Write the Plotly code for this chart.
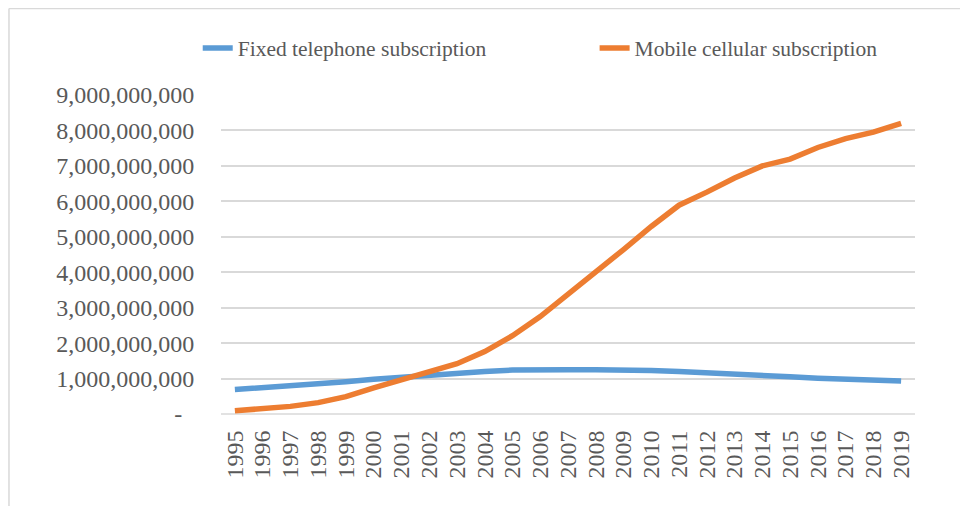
import plotly.graph_objects as go

years = [str(y) for y in range(1995, 2020)]
fixed = [0.69, 0.74, 0.79, 0.84, 0.91, 0.98, 1.04, 1.08, 1.14, 1.20, 1.24, 1.26, 1.25,
         1.25, 1.25, 1.23, 1.20, 1.17, 1.13, 1.09, 1.05, 1.01, 0.98, 0.96, 0.93]
mobile = [0.09, 0.145, 0.215, 0.32, 0.49, 0.74, 0.96, 1.16, 1.42, 1.76, 2.21, 2.75, 3.37,
          4.03, 4.64, 5.29, 5.89, 6.26, 6.66, 7.00, 7.19, 7.52, 7.77, 7.95, 8.20]
fixed = [v * 1e9 for v in fixed]
mobile = [v * 1e9 for v in mobile]

ytick_vals = [i * 1e9 for i in range(10)]
ytick_text = ["-\u00a0\u00a0"] + [f"{int(v):,}" for v in ytick_vals[1:]]

FONT = "Liberation Serif, Times New Roman, serif"
GRAY = "#595959"

fig = go.Figure()
fig.add_trace(go.Scatter(x=years, y=fixed, mode="lines", name="Fixed telephone subscription",
                         line=dict(color="#5B9BD5", width=5.5), legend="legend"))
fig.add_trace(go.Scatter(x=years, y=mobile, mode="lines", name="Mobile cellular subscription",
                         line=dict(color="#ED7D31", width=5.5), legend="legend2"))

legend_common = dict(orientation="h", xref="container", yref="container",
                     xanchor="left", y=1 - 40 / 506, yanchor="middle",
                     font=dict(size=21.5, color=GRAY, family=FONT),
                     bgcolor="rgba(0,0,0,0)")

fig.update_layout(
    width=968, height=506,
    margin=dict(l=213, r=61, t=87, b=100, autoexpand=False),
    paper_bgcolor="white", plot_bgcolor="white",
    font=dict(family=FONT, color=GRAY, size=24),
    showlegend=True,
    legend=dict(x=0.196, **legend_common),
    legend2=dict(x=0.606, **legend_common),
    xaxis=dict(type="category", tickangle=-90, showgrid=False, showline=False,
               tickmode="array", tickvals=years, ticktext=years, automargin=False,
               ticks="outside", ticklen=6, tickcolor="rgba(0,0,0,0)",
               tickfont=dict(size=24, color=GRAY, family=FONT), range=[-0.5, 24.5]),
    yaxis=dict(range=[0, 9e9], tickvals=ytick_vals, ticktext=ytick_text, automargin=False,
               showgrid=True, gridcolor="#D9D9D9", gridwidth=1.5, zeroline=False,
               showline=False, ticks="outside", ticklen=21, tickcolor="rgba(0,0,0,0)",
               tickfont=dict(size=24, color=GRAY, family=FONT)),
    shapes=[
        dict(type="line", xref="paper", yref="paper", x0=-0.3055, x1=-0.3055, y0=-0.5, y1=1.2712,
             line=dict(color="#D9D9D9", width=1.5)),
        dict(type="line", xref="paper", yref="paper", x0=-0.3055, x1=1.2, y0=1.2712, y1=1.2712,
             line=dict(color="#D9D9D9", width=1.5)),
        dict(type="line", xref="paper", yref="paper", x0=0, x1=1, y0=0, y1=0,
             line=dict(color="#D9D9D9", width=1.5), layer="below"),
    ],
)

fig.write_html("out.html")
